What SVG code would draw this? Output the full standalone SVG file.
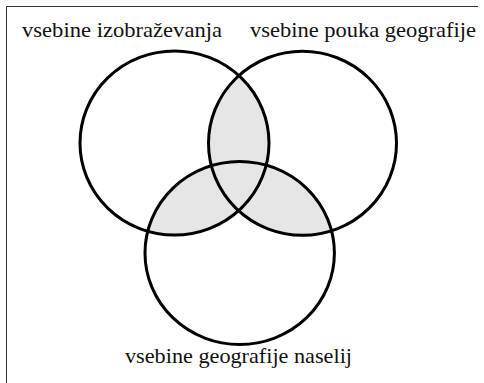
<svg xmlns="http://www.w3.org/2000/svg" width="484" height="383" viewBox="0 0 484 383">
<style>
.c{fill:none;stroke:#000;stroke-width:3}
.s{fill:#e6e6e6;stroke:none}
.t{font-family:"Liberation Serif",serif;font-size:22px;fill:#111}
</style>
<defs>
<clipPath id="ca"><ellipse cx="174.5" cy="143" rx="94.5" ry="92"/></clipPath>
<clipPath id="cb"><ellipse cx="302.5" cy="143.3" rx="94" ry="92"/></clipPath>
</defs>
<rect width="484" height="383" fill="#fff"/>
<polyline points="6.5,383 6.5,6.5 478,6.5" fill="none" stroke="#333" stroke-width="1"/>
<g id="shading">
<ellipse class="s" cx="302.5" cy="143.3" rx="94" ry="92" clip-path="url(#ca)"/>
<ellipse class="s" cx="239.7" cy="253" rx="94.7" ry="91.5" clip-path="url(#ca)"/>
<ellipse class="s" cx="239.7" cy="253" rx="94.7" ry="91.5" clip-path="url(#cb)"/>
</g>
<g id="izobrazevanja">
<ellipse class="c" cx="174.5" cy="143" rx="94.5" ry="92"/>
<text class="t" x="22" y="37" textLength="200" lengthAdjust="spacingAndGlyphs">vsebine izobraževanja</text>
</g>
<g id="pouka">
<ellipse class="c" cx="302.5" cy="143.3" rx="94" ry="92"/>
<text class="t" x="250" y="37" textLength="226" lengthAdjust="spacingAndGlyphs">vsebine pouka geografije</text>
</g>
<g id="naselij">
<ellipse class="c" cx="239.7" cy="253" rx="94.7" ry="91.5"/>
<text class="t" x="125" y="363" textLength="227" lengthAdjust="spacingAndGlyphs">vsebine geografije naselij</text>
</g>
<g id="connectors"/>
</svg>
